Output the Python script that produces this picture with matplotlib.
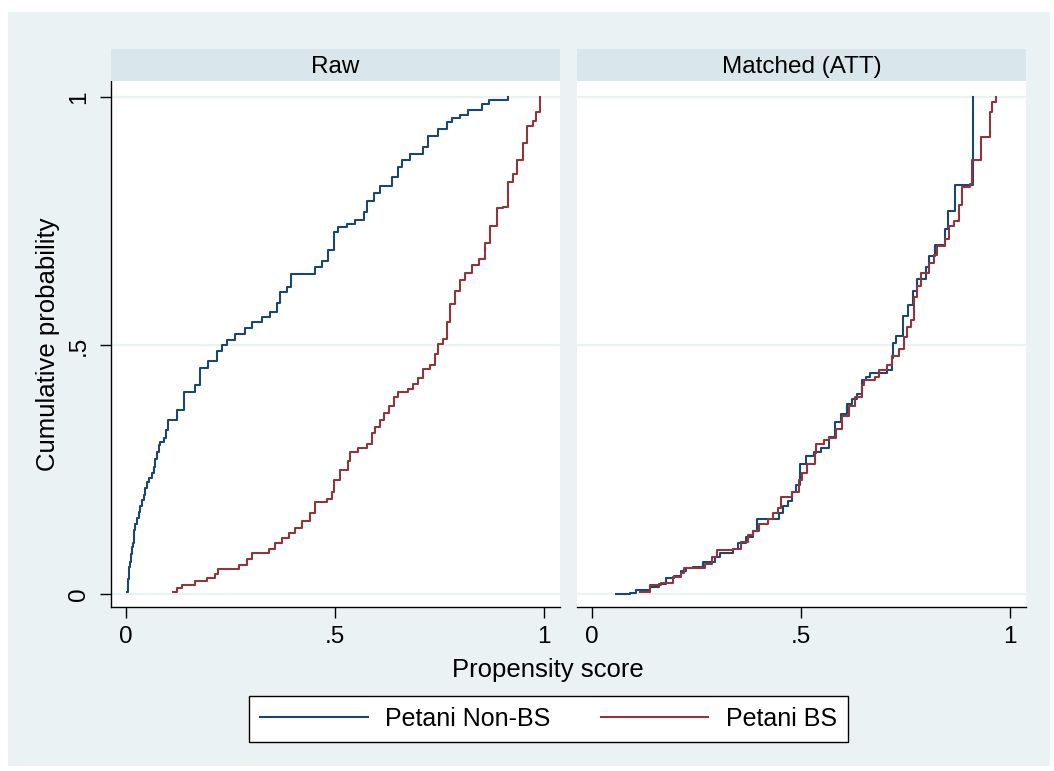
import matplotlib
matplotlib.use("Agg")
import matplotlib.pyplot as plt
from matplotlib.patches import Rectangle
from matplotlib.lines import Line2D

plt.rcParams.update({
    "font.family": ["Liberation Sans", "DejaVu Sans"],
    "font.size": 18,
})

# ── Data ─────────────────────────────────────────────────────────────────────
raw_nonbs_x = [0.002, 0.004, 0.006, 0.008, 0.01, 0.012, 0.014, 0.016, 0.018, 0.02,
               0.022, 0.025, 0.03, 0.034, 0.038, 0.042, 0.046, 0.05, 0.055, 0.062,
               0.066, 0.07, 0.074, 0.078, 0.082, 0.09, 0.095,
               0.1, 0.122, 0.138, 0.166, 0.178, 0.197, 0.217, 0.229, 0.241, 0.261,
               0.285, 0.301, 0.325, 0.345, 0.361, 0.369, 0.385, 0.394, 0.44, 0.452,
               0.468, 0.484, 0.497, 0.508, 0.528, 0.548, 0.568, 0.576, 0.592, 0.608,
               0.636, 0.651, 0.659, 0.679, 0.703, 0.711, 0.723, 0.747, 0.767, 0.779,
               0.799, 0.819, 0.851, 0.869, 0.914]
raw_nonbs_y = [0.005, 0.03, 0.045, 0.055, 0.064, 0.08, 0.095, 0.103, 0.112, 0.128,
               0.14, 0.154, 0.165, 0.178, 0.19, 0.2, 0.213, 0.226, 0.234, 0.243,
               0.256, 0.271, 0.285, 0.299, 0.305, 0.313, 0.33,
               0.35, 0.371, 0.406, 0.42, 0.454, 0.468, 0.489, 0.5, 0.512, 0.524,
               0.535, 0.548, 0.558, 0.568, 0.586, 0.607, 0.617, 0.643, 0.643, 0.658,
               0.669, 0.693, 0.728, 0.738, 0.745, 0.752, 0.769, 0.79, 0.807, 0.821,
               0.838, 0.859, 0.874, 0.885, 0.885, 0.9, 0.922, 0.935, 0.949, 0.957,
               0.963, 0.974, 0.985, 0.994, 1.0]

raw_bs_x = [0.112, 0.122, 0.134, 0.166, 0.193, 0.213, 0.221, 0.269, 0.289, 0.301,
            0.341, 0.357, 0.373, 0.389, 0.405, 0.421, 0.441, 0.452, 0.48, 0.492,
            0.498, 0.512, 0.532, 0.536, 0.556, 0.576, 0.588, 0.596, 0.608, 0.616,
            0.628, 0.64, 0.651, 0.675, 0.687, 0.699, 0.711, 0.727, 0.739, 0.747,
            0.759, 0.767, 0.775, 0.787, 0.799, 0.811, 0.827, 0.845, 0.858, 0.87,
            0.888, 0.902, 0.914, 0.926, 0.934, 0.95, 0.959, 0.974, 0.981, 0.989]
raw_bs_y = [0.005, 0.012, 0.019, 0.026, 0.032, 0.041, 0.051, 0.058, 0.071, 0.083,
            0.09, 0.102, 0.113, 0.122, 0.133, 0.147, 0.164, 0.185, 0.192, 0.205,
            0.23, 0.249, 0.268, 0.286, 0.293, 0.302, 0.323, 0.337, 0.351, 0.364,
            0.378, 0.397, 0.407, 0.413, 0.423, 0.434, 0.452, 0.461, 0.482, 0.503,
            0.513, 0.548, 0.584, 0.61, 0.631, 0.645, 0.662, 0.674, 0.707, 0.741,
            0.776, 0.778, 0.828, 0.845, 0.873, 0.907, 0.942, 0.952, 0.97, 1.0]

att_nonbs_x = [0.058, 0.09, 0.106, 0.138, 0.161, 0.177, 0.197, 0.213, 0.225, 0.241,
               0.265, 0.293, 0.305, 0.336, 0.348, 0.368, 0.384, 0.394, 0.44, 0.448,
               0.456, 0.468, 0.479, 0.487, 0.497, 0.511, 0.531, 0.547, 0.567, 0.581,
               0.595, 0.611, 0.622, 0.634, 0.646, 0.656, 0.666, 0.706, 0.718, 0.72,
               0.726, 0.744, 0.756, 0.768, 0.777, 0.799, 0.805, 0.82, 0.845, 0.851,
               0.867, 0.911, 0.911]
att_nonbs_y = [0.0, 0.003, 0.008, 0.015, 0.021, 0.033, 0.037, 0.046, 0.053, 0.055,
               0.064, 0.074, 0.083, 0.091, 0.102, 0.115, 0.126, 0.152, 0.152, 0.164,
               0.178, 0.188, 0.205, 0.219, 0.261, 0.277, 0.285, 0.293, 0.316, 0.347,
               0.362, 0.382, 0.392, 0.402, 0.43, 0.437, 0.444, 0.451, 0.475, 0.505,
               0.52, 0.56, 0.582, 0.609, 0.634, 0.657, 0.679, 0.703, 0.734, 0.77,
               0.823, 0.823, 1.0]

att_bs_x = [0.114, 0.138, 0.165, 0.193, 0.213, 0.221, 0.269, 0.288, 0.3, 0.336,
            0.356, 0.372, 0.384, 0.4, 0.42, 0.432, 0.444, 0.452, 0.479, 0.494,
            0.503, 0.515, 0.534, 0.535, 0.555, 0.567, 0.583, 0.599, 0.615, 0.63,
            0.646, 0.65, 0.678, 0.686, 0.706, 0.718, 0.734, 0.746, 0.754, 0.762,
            0.77, 0.777, 0.788, 0.805, 0.817, 0.825, 0.845, 0.853, 0.865, 0.877,
            0.886, 0.905, 0.909, 0.923, 0.931, 0.946, 0.952, 0.956, 0.966]
att_bs_y = [0.005, 0.019, 0.022, 0.035, 0.043, 0.053, 0.06, 0.074, 0.088, 0.091,
            0.105, 0.119, 0.126, 0.14, 0.152, 0.164, 0.174, 0.195, 0.205, 0.23,
            0.243, 0.261, 0.283, 0.302, 0.309, 0.313, 0.333, 0.358, 0.378, 0.396,
            0.42, 0.43, 0.437, 0.451, 0.461, 0.479, 0.492, 0.517, 0.537, 0.551,
            0.597, 0.62, 0.645, 0.666, 0.683, 0.7, 0.714, 0.741, 0.751, 0.783,
            0.819, 0.824, 0.873, 0.873, 0.92, 0.92, 0.97, 0.99, 1.0]

panels = ["Raw", "Matched (ATT)"]
series_labels = ["Petani Non-BS", "Petani BS"]
x_ticks = [0, 0.5, 1]
x_ticklabels = ["0", ".5", "1"]
y_ticks = [0, 0.5, 1]
y_ticklabels = ["0", ".5", "1"]

# ── Style (Stata s2color look) ────────────────────────────────────────────────
BG = "#eaf2f3"
STRIP = "#d9e6eb"
BLUE = "#1a476f"
RED = "#90353b"

W, H = 1054, 771
fig = plt.figure(figsize=(W / 100, H / 100), dpi=100, facecolor="white")

def fx(px):
    return px / W

def fy(py):
    return 1 - py / H

fig.patches.append(Rectangle((fx(8), fy(766)), fx(1050) - fx(8), fy(12) - fy(766),
                             transform=fig.transFigure, facecolor=BG,
                             edgecolor="none", zorder=-10))

panel_px = [(111, 560), (577, 1026)]
top_px, bot_px = 81, 607
curves = [((raw_nonbs_x, raw_nonbs_y), (raw_bs_x, raw_bs_y)),
          ((att_nonbs_x, att_nonbs_y), (att_bs_x, att_bs_y))]

for i, ((x0, x1), title, data) in enumerate(zip(panel_px, panels, curves)):
    ax = fig.add_axes([fx(x0), fy(bot_px), fx(x1) - fx(x0), fy(top_px) - fy(bot_px)])
    ax.set_facecolor("white")
    ax.set_xlim(-0.036, 1.038)
    ax.set_ylim(-0.026, 1.032)
    for yv in y_ticks:
        ax.axhline(yv, color=BG, lw=1.6, zorder=1)
    (bx, by), (rx, ry) = data
    ax.plot(bx, by, drawstyle="steps-post", color=BLUE, lw=1.5, zorder=3)
    ax.plot(rx, ry, drawstyle="steps-post", color=RED, lw=1.5, zorder=3)

    for s in ["top", "right"]:
        ax.spines[s].set_visible(False)
    ax.spines["bottom"].set_color("black")
    ax.spines["bottom"].set_linewidth(1.0)
    ax.set_xticks(x_ticks)
    ax.set_xticklabels(x_ticklabels)
    ax.tick_params(axis="x", direction="out", length=8, width=1, labelsize=17.5, pad=6)
    if i == 0:
        ax.spines["left"].set_color("black")
        ax.spines["left"].set_linewidth(1.0)
        ax.set_yticks(y_ticks)
        ax.set_yticklabels(y_ticklabels, rotation=90, va="center")
        ax.tick_params(axis="y", direction="out", length=8, width=1, labelsize=17.5, pad=7)
        ax.set_ylabel("Cumulative probability", fontsize=18.5, labelpad=6)
    else:
        ax.spines["left"].set_visible(False)
        ax.set_yticks(y_ticks)
        ax.tick_params(axis="y", left=False, labelleft=False)

    sax = fig.add_axes([fx(x0), fy(top_px), fx(x1) - fx(x0), fy(49) - fy(top_px)])
    sax.set_facecolor(STRIP)
    sax.set_xticks([])
    sax.set_yticks([])
    for s in sax.spines.values():
        s.set_visible(False)
    sax.text(0.5, 0.44, title, ha="center", va="center", fontsize=17.5,
             transform=sax.transAxes)

fig.text(fx(548), fy(670), "Propensity score", ha="center", va="center", fontsize=18.5)

handles = [Line2D([0], [0], color=BLUE, lw=1.5), Line2D([0], [0], color=RED, lw=1.5)]
leg = fig.legend(handles, series_labels, loc="center",
                 bbox_to_anchor=(fx(548.5), fy(719)), ncol=2, fontsize=18,
                 frameon=True, fancybox=False, edgecolor="black", facecolor="white",
                 framealpha=1, handlelength=4.3, handletextpad=0.7,
                 columnspacing=2.0, borderpad=0.45, borderaxespad=0)
leg.get_frame().set_linewidth(1.0)

fig.savefig("out.png", dpi=100, facecolor="white")
